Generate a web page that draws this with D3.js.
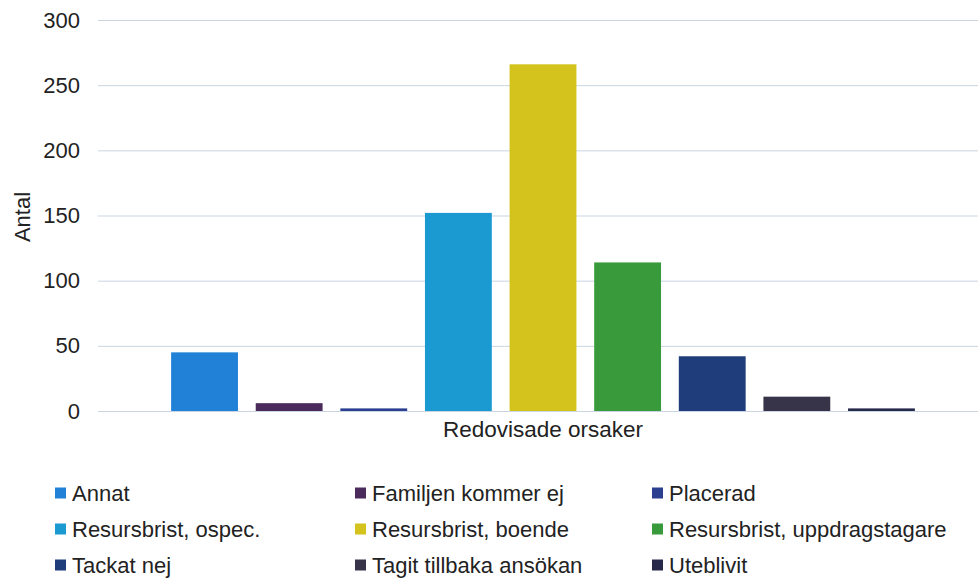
<!DOCTYPE html>
<html>
<head>
<meta charset="utf-8">
<script src="https://cdn.jsdelivr.net/npm/d3@7"></script>
<style>
  body { margin: 0; background: #fff; }
  svg text { font-family: "Liberation Sans", Arial, sans-serif; fill: #222; }
</style>
</head>
<body>
<script>
  // values
  let category = "Redovisade orsaker";
  let reasons = ["Annat", "Familjen kommer ej", "Placerad",
                 "Resursbrist, ospec.", "Resursbrist, boende", "Resursbrist, uppdragstagare",
                 "Tackat nej", "Tagit tillbaka ansökan", "Uteblivit"];
  let counts = [45, 6, 2, 152, 266, 114, 42, 11, 2];
  let yTicks = [0, 50, 100, 150, 200, 250, 300];
  let colors = ["#2081d6", "#4a2b5c", "#2a3f8f", "#1b9ad2", "#d3c31c",
                "#389a3a", "#1f3d7a", "#37344a", "#27284a"];

  let svgContainer = "";

  window.onload = function() {
    svgContainer = d3.select("body")
      .append("svg")
      .attr("width", 978)
      .attr("height", 581)
      .style("display", "block");

    let scales = drawAxes();
    plotData(scales);
    makeLegend();
  }

  // axes + gridlines
  function drawAxes() {
    let yScale = d3.scaleLinear()
      .domain([0, 300])
      .range([411, 20]);

    let yAxis = d3.axisLeft(yScale)
      .tickValues(yTicks)
      .tickSizeInner(-890)
      .tickSizeOuter(0)
      .tickPadding(18);

    let yG = svgContainer.append("g")
      .attr("transform", "translate(98, 0)")
      .call(yAxis);
    yG.select(".domain").remove();
    yG.selectAll(".tick line")
      .attr("stroke", "#c9d5e2")
      .attr("stroke-width", 1);
    yG.selectAll(".tick text")
      .style("font-size", "22px");

    // outer band = the single category, inner band = each reason
    let x0 = d3.scaleBand()
      .domain([category])
      .range([98, 988])
      .paddingOuter(0.085);

    let x1 = d3.scaleBand()
      .domain(reasons)
      .range([0, x0.bandwidth()])
      .paddingInner(0.21)
      .paddingOuter(0.1);

    let xAxis = d3.axisBottom(x0).tickSize(0).tickPadding(10);
    let xG = svgContainer.append("g")
      .attr("transform", "translate(0, 411)")
      .call(xAxis);
    xG.select(".domain").remove();
    xG.selectAll(".tick text")
      .style("font-size", "22.5px");

    // y axis title
    svgContainer.append("text")
      .attr("transform", "translate(30, 217)rotate(-90)")
      .attr("text-anchor", "middle")
      .style("font-size", "22px")
      .text("Antal");

    return { x0: x0, x1: x1, y: yScale };
  }

  function plotData(s) {
    let rows = reasons.map((r, i) => ({ reason: r, count: counts[i], color: colors[i] }));

    svgContainer.append("g")
      .attr("transform", "translate(" + s.x0(category) + ", 0)")
      .selectAll("rect")
      .data(rows)
      .enter()
      .append("rect")
        .attr("x", (d) => s.x1(d.reason))
        .attr("y", (d) => s.y(d.count))
        .attr("width", s.x1.bandwidth())
        .attr("height", (d) => s.y(0) - s.y(d.count))
        .attr("fill", (d) => d.color);
  }

  function makeLegend() {
    let colX = [55, 355, 652];
    let rowY = d3.scaleLinear().domain([0, 2]).range([493, 565]);

    let items = svgContainer.append("g")
      .selectAll("g")
      .data(reasons)
      .enter()
      .append("g")
        .attr("transform", (d, i) => "translate(" + colX[i % 3] + ", " + rowY(Math.floor(i / 3)) + ")");

    items.append("rect")
      .attr("x", 0)
      .attr("y", -5.5)
      .attr("width", 11)
      .attr("height", 11)
      .attr("fill", (d, i) => colors[i]);

    items.append("text")
      .attr("x", 17)
      .attr("dy", "0.36em")
      .style("font-size", "22px")
      .text((d) => d);
  }
</script>
</body>
</html>
